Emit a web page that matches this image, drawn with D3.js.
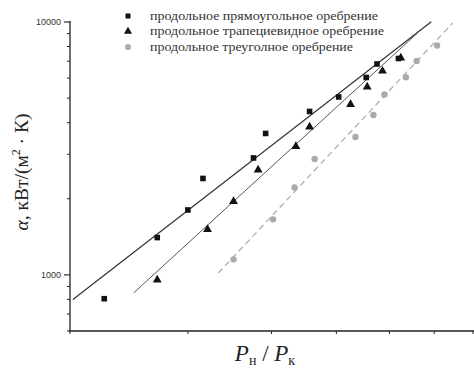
<!DOCTYPE html>
<meta charset="utf-8">
<style>
body { margin: 0; background: #fff; }
.legend text { font-family: "Liberation Serif", "DejaVu Serif", serif; font-size: 11.5px; fill: #333; }
.tick-label { font: 9px "Liberation Sans", Arial, sans-serif; fill: #333; }
</style>
<svg width="474" height="370"></svg>
<script src="https://d3js.org/d3.v7.min.js"></script>
<script>

// data
var rectX = [2.25, 2.70, 3.00, 3.16, 3.76, 3.92, 4.56, 5.04, 5.54, 5.75, 6.19]
var rectY = [805, 1405, 1806, 2406, 2900, 3625, 4429, 5053, 6035, 6823, 7172]

var trapX = [2.70, 3.21, 3.51, 3.82, 4.35, 4.56, 5.25, 5.56, 5.86, 6.24]
var trapY = [955, 1512, 1952, 2600, 3220, 3846, 4719, 5535, 6401, 7206]

var triX = [3.51, 4.02, 4.33, 4.64, 5.34, 5.68, 5.90, 6.35, 6.59, 7.07]
var triY = [1152, 1658, 2217, 2874, 3512, 4290, 5169, 6046, 7011, 8074]

// fit lines: [x1, y1, x2, y2]
var rectFit = [2.02, 800, 6.93, 10030]
var trapFit = [2.49, 849, 6.61, 9049]
var triFit = [3.33, 1016, 7.46, 9909]

var legendLabels = [
	"продольное прямоугольное оребрение",
	"продольное трапециевидное оребрение",
	"продольное треуголное оребрение"
]

var xTicks = [2, 3, 4, 5, 6, 7, 8]
var yMajor = [1000, 10000]
var yMinor = [600, 700, 800, 900, 2000, 3000, 4000, 5000, 6000, 7000, 8000, 9000]

var svg = d3.select('svg')

var x = d3.scaleLog().domain([2, 8]).range([70, 473])
var y = d3.scaleLog().domain([600, 10000]).range([331, 22])

// axes
var axisCol = '#222'
svg.append('line')
	.attr('x1', 70).attr('x2', 70)
	.attr('y1', y(10000) - 1).attr('y2', y(600))
	.attr('stroke', axisCol).attr('stroke-width', 1.3)
svg.append('line')
	.attr('x1', 69).attr('x2', 474)
	.attr('y1', y(600)).attr('y2', y(600))
	.attr('stroke', axisCol).attr('stroke-width', 1.5)

svg.selectAll('.ymaj').data(yMajor).enter().append('line')
	.attr('x1', 64).attr('x2', 70)
	.attr('y1', d => y(d)).attr('y2', d => y(d))
	.attr('stroke', axisCol).attr('stroke-width', 1.1)
svg.selectAll('.ymin').data(yMinor).enter().append('line')
	.attr('x1', 67).attr('x2', 70)
	.attr('y1', d => y(d)).attr('y2', d => y(d))
	.attr('stroke', axisCol).attr('stroke-width', 1)
svg.selectAll('.ylab').data(yMajor).enter().append('text')
	.attr('class', 'tick-label')
	.attr('x', 61).attr('y', d => y(d) + 3)
	.attr('text-anchor', 'end')
	.text(d => d)

svg.selectAll('.xt').data(xTicks).enter().append('line')
	.attr('x1', d => x(d)).attr('x2', d => x(d))
	.attr('y1', y(600)).attr('y2', y(600) + 3)
	.attr('stroke', axisCol).attr('stroke-width', 1)

// fit lines
function fitLine(f, col, w, dash) {
	svg.append('line')
		.attr('x1', x(f[0])).attr('y1', y(f[1]))
		.attr('x2', x(f[2])).attr('y2', y(f[3]))
		.attr('stroke', col).attr('stroke-width', w)
		.attr('stroke-dasharray', dash)
}
fitLine(rectFit, '#333', 1.2, null)
fitLine(trapFit, '#555', 1, null)
fitLine(triFit, '#aaa', 1.2, '6,4')

// markers
var rects = d3.zip(rectX, rectY)
svg.selectAll('.sq').data(rects).enter().append('rect')
	.attr('x', d => x(d[0]) - 2.8).attr('y', d => y(d[1]) - 2.8)
	.attr('width', 5.6).attr('height', 5.6)
	.attr('fill', '#111')

var tri = d3.symbol().type(d3.symbolTriangle).size(34)
svg.selectAll('.tr').data(d3.zip(trapX, trapY)).enter().append('path')
	.attr('d', tri)
	.attr('transform', d => 'translate(' + x(d[0]) + ',' + y(d[1]) + ')')
	.attr('fill', '#111')

svg.selectAll('.ci').data(d3.zip(triX, triY)).enter().append('circle')
	.attr('cx', d => x(d[0])).attr('cy', d => y(d[1]))
	.attr('r', 3.2)
	.attr('fill', '#aaa')

// legend
var lg = svg.append('g').attr('class', 'legend')
var lgY = [16, 31.5, 47]
var lgW = [228, 234, 203]
lg.append('rect').attr('x', 125.5).attr('y', lgY[0] - 2.5).attr('width', 5).attr('height', 5).attr('fill', '#111')
lg.append('path').attr('d', d3.symbol().type(d3.symbolTriangle).size(28))
	.attr('transform', 'translate(128,' + lgY[1] + ')').attr('fill', '#111')
lg.append('circle').attr('cx', 128).attr('cy', lgY[2]).attr('r', 3).attr('fill', '#aaa')
lg.selectAll('text').data(legendLabels).enter().append('text')
	.attr('x', 150).attr('y', (d, i) => lgY[i] + 3.5)
	.attr('textLength', (d, i) => lgW[i])
	.attr('lengthAdjust', 'spacingAndGlyphs')
	.text(d => d)

// axis titles
var yt = svg.append('text')
	.attr('transform', 'translate(28,172) rotate(-90)')
	.attr('text-anchor', 'middle')
	.style('font', '19.5px "Liberation Serif", serif')
	.attr('fill', '#222')
yt.append('tspan').style('font-style', 'italic').text('α')
yt.append('tspan').text(', кВт/(м')
yt.append('tspan').attr('dy', -8).style('font-size', '12px').text('2')
yt.append('tspan').attr('dy', 8).text(' · К)')

var xt = svg.append('text')
	.attr('x', 265).attr('y', 361)
	.attr('text-anchor', 'middle')
	.style('font', '23px "Liberation Serif", serif')
	.attr('fill', '#222')
xt.append('tspan').style('font-style', 'italic').text('P')
xt.append('tspan').attr('dy', 4).style('font-size', '14px').text('н')
xt.append('tspan').attr('dy', -4).text(' / ')
xt.append('tspan').style('font-style', 'italic').text('P')
xt.append('tspan').attr('dy', 4).style('font-size', '14px').text('к')

</script>
